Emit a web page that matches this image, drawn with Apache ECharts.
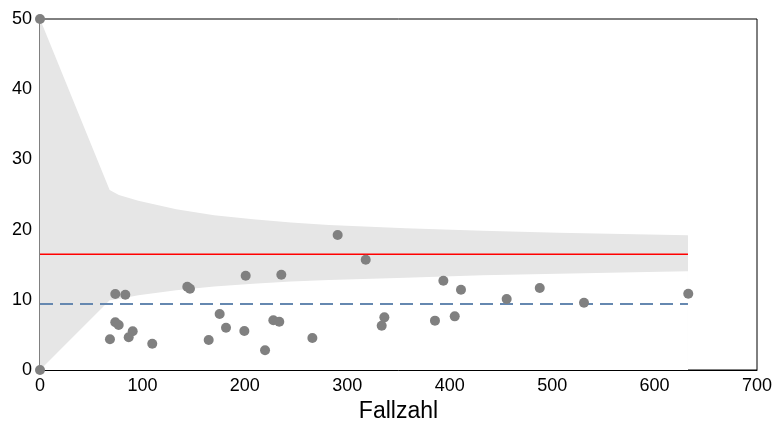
<!DOCTYPE html>
<html>
<head>
<meta charset="utf-8">
<script src="https://cdn.jsdelivr.net/npm/echarts@6/dist/echarts.min.js"></script>
<style>html,body{margin:0;padding:0;background:#fff}#c{width:776px;height:428px}</style>
</head>
<body>
<div id="c"></div>
<script>
// Scatter points: Fallzahl (x) and Wert (y)
const fallzahl = [0, 0, 68.3, 73.5, 83.3, 73.5, 76.8, 90.5, 86.6, 109.6, 143.8, 146.4, 164.7, 175.4, 181.6, 199.5, 200.8, 219.7, 227.8, 233.6, 235.6, 265.9, 290.6, 318, 333.6, 336.2, 385.6, 393.8, 404.9, 411, 455.6, 487.9, 531.1, 632.9];
const werte    = [50, 0, 4.37, 10.83, 10.73, 6.79, 6.41, 5.51, 4.66, 3.75, 11.87, 11.58, 4.27, 7.98, 6.03, 5.56, 13.43, 2.81, 7.08, 6.88, 13.58, 4.56, 19.23, 15.71, 6.31, 7.5, 7.03, 12.72, 7.64, 11.44, 10.11, 11.68, 9.59, 10.87];

// Funnel band limits
const bandX     = [0, 68, 77, 96, 133, 170, 208, 245, 282, 357, 432, 506, 581, 632.6];
const bandUpper = [50, 25.64, 24.93, 24.12, 22.89, 22.05, 21.46, 21.0, 20.65, 20.18, 19.85, 19.56, 19.32, 19.18];
const bandLower = [0, 9.95, 10.1, 10.64, 11.35, 11.9, 12.3, 12.6, 12.82, 13.15, 13.48, 13.72, 13.91, 14.06];

// Reference lines
const lineX = [0, 632.6];
const mittelwert = 16.5;
const referenzwert = 9.4;

const xTicks = [0, 100, 200, 300, 400, 500, 600, 700];
const yTicks = [0, 10, 20, 30, 40, 50];

const pts = fallzahl.map((x, i) => [x, werte[i]]);
const up = bandX.map((x, i) => [x, bandUpper[i]]);
const lo = bandX.map((x, i) => [x, bandLower[i]]);

const chart = echarts.init(document.getElementById('c'), null, {renderer: 'canvas'});
const font = 'Liberation Sans, Arial, sans-serif';
chart.setOption({
  animation: false,
  backgroundColor: '#fff',
  grid: {left: 40, right: 19, top: 19, bottom: 58, show: true, borderColor: '#000', borderWidth: 1},
  xAxis: {
    type: 'value', min: xTicks[0], max: xTicks[xTicks.length - 1], interval: 100,
    name: 'Fallzahl', nameLocation: 'middle', nameGap: 30,
    nameTextStyle: {fontFamily: font, fontSize: 23, color: '#000'},
    axisLine: {show: true, lineStyle: {color: '#000', width: 1}},
    axisTick: {show: false},
    splitLine: {show: false},
    axisLabel: {fontFamily: font, fontSize: 18, color: '#000', margin: 7}
  },
  yAxis: {
    type: 'value', min: yTicks[0], max: yTicks[yTicks.length - 1], interval: 10,
    axisLine: {show: true, lineStyle: {color: '#000', width: 1}},
    axisTick: {show: false},
    splitLine: {show: false},
    axisLabel: {fontFamily: font, fontSize: 18, color: '#000', margin: 8}
  },
  series: [
    {type: 'line', data: up, symbol: 'none', lineStyle: {width: 0}, areaStyle: {color: '#e6e6e6', opacity: 1}, z: 1, silent: true},
    {type: 'line', data: lo, symbol: 'none', lineStyle: {width: 0}, areaStyle: {color: '#ffffff', opacity: 1}, z: 1, silent: true},
    {type: 'line', data: lineX.map(x => [x, mittelwert]), symbol: 'none', lineStyle: {color: '#ff0000', width: 1.5}, z: 3},
    {type: 'line', data: lineX.map(x => [x, referenzwert]), symbol: 'none', lineStyle: {color: '#6688b0', width: 2, type: [13, 7]}, z: 3},
    {type: 'scatter', data: pts, symbolSize: 10, itemStyle: {color: '#808080', opacity: 1}, z: 4}
  ]
});
</script>
</body>
</html>
